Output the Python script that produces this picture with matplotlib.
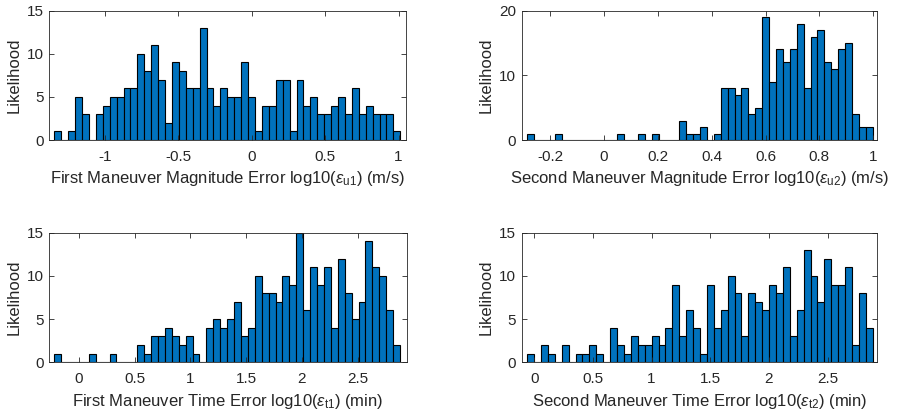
import numpy as np
import matplotlib.pyplot as plt

plt.rcParams['font.family'] = ['Liberation Sans', 'DejaVu Sans']
plt.rcParams['mathtext.fontset'] = 'custom'
plt.rcParams['mathtext.rm'] = 'Liberation Sans'
plt.rcParams['mathtext.it'] = 'Liberation Sans:italic'

# histogram counts (50 bins each)
counts_u1 = [1, 0, 1, 5, 3, 0, 3, 4, 5, 5, 6, 6, 10, 8, 11, 7, 2, 9, 8, 6,
             6, 13, 6, 4, 6, 5, 5, 9, 5, 1, 4, 4, 7, 7, 1, 7, 4, 5, 3, 3,
             4, 5, 3, 6, 3, 4, 3, 3, 3, 1]
counts_u2 = [1, 0, 0, 0, 1, 0, 0, 0, 0, 0, 0, 0, 0, 1, 0, 0, 1, 0, 1, 0,
             0, 0, 3, 1, 1, 2, 0, 1, 8, 8, 7, 8, 4, 5, 19, 9, 14, 12, 14, 18,
             8, 16, 17, 12, 11, 14, 15, 4, 2, 2]
counts_t1 = [1, 0, 0, 0, 0, 1, 0, 0, 1, 0, 0, 0, 2, 1, 3, 3, 4, 3, 2, 3,
             1, 0, 4, 5, 4, 5, 7, 3, 4, 10, 8, 8, 7, 10, 9, 15, 6, 11, 9, 11,
             4, 12, 8, 5, 7, 14, 11, 10, 6, 2]
counts_t2 = [1, 0, 2, 1, 0, 2, 0, 1, 1, 2, 1, 0, 4, 2, 1, 3, 2, 2, 3, 2,
             4, 9, 3, 6, 4, 1, 9, 4, 6, 10, 8, 3, 8, 7, 6, 9, 8, 11, 3, 6,
             13, 10, 7, 12, 9, 9, 11, 2, 8, 4]

# bin ranges (first edge, last edge)
range_u1 = (-1.3455, 1.0116)
range_u2 = (-0.284, 0.998)
range_t1 = (-0.222, 2.879)
range_t2 = (-0.060, 2.885)

xlabels = [r'First Maneuver Magnitude Error log10($\epsilon_{\mathrm{u1}}$) (m/s)',
           r'Second Maneuver Magnitude Error log10($\epsilon_{\mathrm{u2}}$) (m/s)',
           r'First Maneuver Time Error log10($\epsilon_{\mathrm{t1}}$) (min)',
           r'Second Maneuver Time Error log10($\epsilon_{\mathrm{t2}}$) (min)']

fig = plt.figure(figsize=(8.98, 4.15), dpi=100)
W, H = 898, 415
boxes = [(49.3, 10.7, 406.3, 140), (521.7, 10.7, 877.3, 140),
         (49.3, 232.7, 406.7, 362.3), (521.7, 232.7, 877.3, 362.3)]
xlims = [(-1.380, 1.0525), (-0.305, 1.015), (-0.266, 2.939), (-0.107, 2.924)]
ylims = [15, 20, 15, 15]
xticks = [[-1, -0.5, 0, 0.5, 1], [-0.2, 0, 0.2, 0.4, 0.6, 0.8, 1],
          [0, 0.5, 1, 1.5, 2, 2.5], [0, 0.5, 1, 1.5, 2, 2.5]]
yticks = [[0, 5, 10, 15], [0, 10, 20], [0, 5, 10, 15], [0, 5, 10, 15]]

for i, (counts, rng) in enumerate(zip([counts_u1, counts_u2, counts_t1, counts_t2],
                                      [range_u1, range_u2, range_t1, range_t2])):
    x0, y0, x1, y1 = boxes[i]
    ax = fig.add_axes([x0 / W, 1 - y1 / H, (x1 - x0) / W, (y1 - y0) / H])
    edges = np.linspace(rng[0], rng[1], len(counts) + 1)
    ax.bar(edges[:-1], counts, width=np.diff(edges), align='edge',
           color='#0072BD', edgecolor='black', linewidth=0.8)
    ax.set_xlim(*xlims[i])
    ax.set_ylim(0, ylims[i])
    ax.set_xticks(xticks[i])
    ax.set_xticklabels(['%g' % t for t in xticks[i]])
    ax.set_yticks(yticks[i])
    ax.tick_params(direction='in', top=True, right=True, length=3.5,
                   labelsize=11, colors='#262626', width=0.6, pad=4)
    ax.tick_params(axis='x', pad=7)
    for s in ax.spines.values():
        s.set_color('#262626')
        s.set_linewidth(0.6)
    ax.set_xlabel(xlabels[i], fontsize=12, color='#262626', labelpad=4)
    ax.set_ylabel('Likelihood', fontsize=12, color='#262626', labelpad=4)

fig.savefig('out.png', dpi=100)
